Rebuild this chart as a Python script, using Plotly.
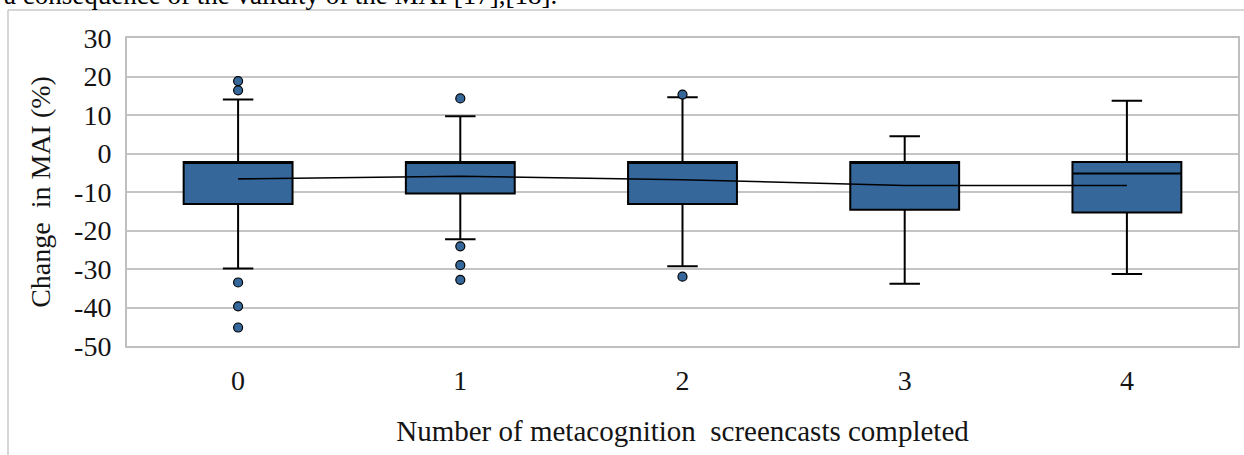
import plotly.graph_objects as go

# ---- data ----
categories = [0, 1, 2, 3, 4]
category_labels = ["0", "1", "2", "3", "4"]
q1 = [-13.1, -10.4, -13.1, -14.6, -15.3]
median = [-2.2, -2.2, -2.2, -2.2, -5.2]
q3 = [-2.2, -2.2, -2.2, -2.2, -2.2]
lower_whisker = [-29.9, -22.3, -29.3, -33.8, -31.3]
upper_whisker = [14.0, 9.7, 14.6, 4.5, 13.7]
means = [-6.6, -5.9, -6.8, -8.3, -8.3]
outlier_x = [0, 0, 0, 0, 0, 1, 1, 1, 1, 2, 2]
outlier_y = [18.8, 16.4, -33.5, -39.7, -45.2, 14.3, -24.1, -29.0, -32.8, 15.3, -32.0]
y_ticks = [30, 20, 10, 0, -10, -20, -30, -40, -50]
y_tick_labels = ["30", "20", "10", "0", "-10", "-20", "-30", "-40", "-50"]

BLUE = "#35679A"
SERIF = "Liberation Serif, Times New Roman, serif"
TXT = "#141414"

W, H = 1244, 455
L, R, T, B = 127, 6, 38, 109
pw, ph = W - L - R, H - T - B


def px_x(p):
    return (p - L) / pw


def px_y(p):
    return (H - B - p) / ph


fig = go.Figure()

fig.add_trace(go.Box(
    x=categories,
    q1=q1, median=median, q3=q3,
    lowerfence=lower_whisker, upperfence=upper_whisker,
    fillcolor=BLUE,
    line=dict(color="black", width=2),
    width=0.49,
    whiskerwidth=0.28,
    boxpoints=False,
    showlegend=False,
))

fig.add_trace(go.Scatter(
    x=categories, y=means, mode="lines",
    line=dict(color="black", width=1.6),
    showlegend=False, hoverinfo="skip",
))

fig.add_trace(go.Scatter(
    x=outlier_x, y=outlier_y, mode="markers",
    marker=dict(color=BLUE, size=9, line=dict(color="black", width=1.2)),
    showlegend=False,
))

fig.update_layout(
    width=W, height=H,
    margin=dict(l=L, r=R, t=T, b=B, autoexpand=False),
    paper_bgcolor="white", plot_bgcolor="white",
    font=dict(family=SERIF, size=24, color=TXT),
    xaxis=dict(
        range=[-0.5, 4.5], tickmode="array", tickvals=categories,
        ticktext=category_labels, showgrid=False, zeroline=False,
        showline=True, mirror=True, linecolor="#bfbfbf", linewidth=2,
        ticks="", ticklabelstandoff=8,
        tickfont=dict(family=SERIF, size=28, color=TXT),
        title=dict(text="Number of metacognition\u00a0 screencasts completed",
                   font=dict(family=SERIF, size=29, color=TXT), standoff=26),
        automargin=False,
    ),
    yaxis=dict(
        range=[-50, 30], tickmode="array", tickvals=y_ticks,
        ticktext=y_tick_labels,
        showgrid=True, gridcolor="#c4c4c4", gridwidth=1.5,
        zeroline=False, showline=True, mirror=True,
        linecolor="#bfbfbf", linewidth=2,
        ticks="", ticklabelstandoff=8,
        tickfont=dict(family=SERIF, size=28, color=TXT),
        title=dict(text="Change\u00a0 in MAI (%)",
                   font=dict(family=SERIF, size=28, color=TXT), standoff=15),
        automargin=False,
    ),
    shapes=[
        dict(type="line", xref="paper", yref="paper",
             x0=px_x(8), x1=px_x(W + 5), y0=px_y(10), y1=px_y(10),
             line=dict(color="#c8c8c8", width=1.5)),
        dict(type="line", xref="paper", yref="paper",
             x0=px_x(8), x1=px_x(8), y0=px_y(10), y1=px_y(H + 5),
             line=dict(color="#c8c8c8", width=1.5)),
    ],
    annotations=[
        dict(text="a consequence of the validity of the MAI [17],[18].",
             xref="paper", yref="paper", x=px_x(2), y=px_y(12),
             xanchor="left", yanchor="bottom", showarrow=False,
             font=dict(family=SERIF, size=27, color="black")),
    ],
)

fig.write_html("out.html", config={"displayModeBar": False},
               post_script="document.body.style.margin='0';")
